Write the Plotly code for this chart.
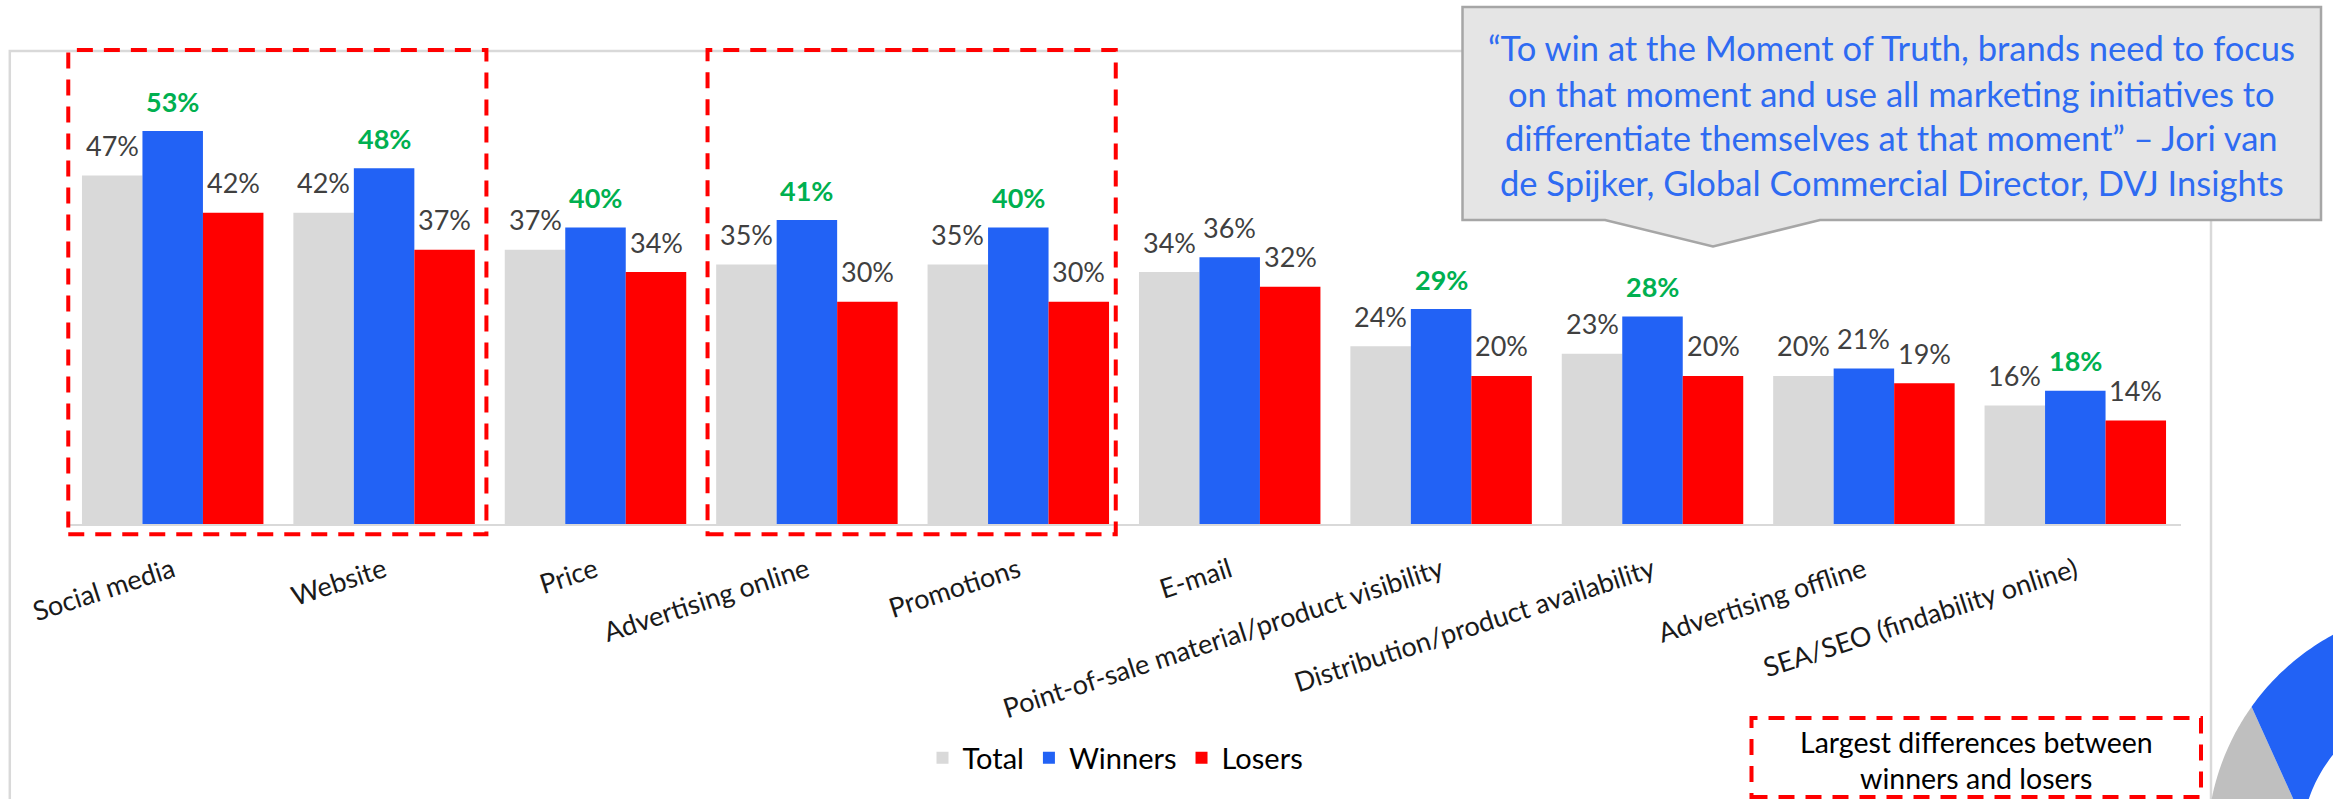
import numpy as np
import plotly.graph_objects as go

# ---- data -------------------------------------------------------------
categories = [
    "Social media", "Website", "Price", "Advertising online", "Promotions",
    "E-mail", "Point-of-sale material/product visibility",
    "Distribution/product availability", "Advertising offline",
    "SEA/SEO (findability online)",
]
total = [47, 42, 37, 35, 35, 34, 24, 23, 20, 16]
winners = [53, 48, 40, 41, 40, 36, 29, 28, 21, 18]
losers = [42, 37, 34, 30, 30, 32, 20, 20, 19, 14]
# winners values shown in green (notable gap versus losers)
winners_highlight = [True, True, True, True, True, False, True, True, False, True]
# category index spans framed by the red dashed boxes
highlight_spans = [(-0.494, 1.484), (2.530, 4.461)]

quote_lines = [
    "\u201cTo win at the Moment of Truth, brands need to focus",
    "on that moment and use all marketing initiatives to",
    "differentiate themselves at that moment\u201d \u2013 Jori van",
    "de Spijker, Global Commercial Director, DVJ Insights",
]
box_note_lines = ["Largest differences between", "winners and losers"]

# ---- styling ----------------------------------------------------------
W, H = 2333, 799
FONT = "Lato, 'Open Sans', sans-serif"
C_TOTAL = "#D9D9D9"
C_WIN = "#2262F5"
C_LOSE = "#FF0000"
C_GREEN = "#00B050"
C_LABEL = "#404040"
C_QUOTE = "#2E6BF2"
BARGAP = 0.1415


def px(x):
    return x / W


def py(y):
    return 1 - y / H


n = len(categories)
plot_left, plot_right = 67, 2181
plot_top, plot_bottom = 51, 524.3
ymax = (plot_bottom - plot_top) / 7.42


def cat_dom(v):
    # category index -> fraction of the x-axis domain
    return (v + 0.5) / n


fig = go.Figure()
for name, vals, col in [("Total", total, C_TOTAL), ("Winners", winners, C_WIN), ("Losers", losers, C_LOSE)]:
    fig.add_trace(go.Bar(
        name=name, x=list(range(n)), y=vals, marker=dict(color=col, line=dict(width=0)),
        hoverinfo="skip",
    ))

annotations = []
bar_w = (1 - BARGAP) / 3
for k, vals in enumerate([total, winners, losers]):
    for i, v in enumerate(vals):
        hl = (k == 1 and winners_highlight[i])
        annotations.append(dict(
            x=i + (k - 1) * bar_w, y=v, xref="x", yref="y",
            text=f"<b>{v}%</b>" if hl else f"{v}%",
            showarrow=False, yshift=30, yanchor="middle", xanchor="center",
            font=dict(family=FONT, size=27, color=C_GREEN if hl else C_LABEL),
        ))

# quote in the callout
quote_y = [48, 93.6, 137.5, 182]
for line, yy in zip(quote_lines, quote_y):
    annotations.append(dict(
        x=px(1891.5), y=py(yy), xref="paper", yref="paper", text=line,
        showarrow=False, xanchor="center", yanchor="middle",
        font=dict(family=FONT, size=34.5, color=C_QUOTE),
    ))

# note box text
for line, yy in zip(box_note_lines, [742, 778]):
    annotations.append(dict(
        x=px(1976), y=py(yy), xref="paper", yref="paper", text=line,
        showarrow=False, xanchor="center", yanchor="middle",
        font=dict(family=FONT, size=28.5, color="#000000"),
    ))

shapes = []
# outer chart frame
shapes.append(dict(type="rect", xref="paper", yref="paper",
                   x0=px(9.8), x1=px(2211), y0=py(51), y1=py(812),
                   line=dict(color="#D9D9D9", width=2.5), layer="below"))

# callout bubble with pointer
callout = [(1462.5, 7), (2321, 7), (2321, 220), (1820, 220), (1713, 246.5),
           (1605, 220), (1462.5, 220)]
path = "M " + " L ".join(f"{px(a):.5f},{py(b):.5f}" for a, b in callout) + " Z"
shapes.append(dict(type="path", xref="paper", yref="paper", path=path,
                   fillcolor="#E5E5E5", line=dict(color="#A6A6A6", width=2.5), layer="above"))

# red dashed frames around the categories with the biggest gaps
for a, b in highlight_spans:
    shapes.append(dict(type="rect", xref="x domain", yref="paper",
                       x0=cat_dom(a), x1=cat_dom(b), y0=py(534.3), y1=py(50),
                       line=dict(color="#FF0000", width=4, dash="16px,11px"),
                       layer="above"))

# note box
shapes.append(dict(type="rect", xref="paper", yref="paper",
                   x0=px(1751.5), x1=px(2201), y0=py(797), y1=py(718),
                   line=dict(color="#FF0000", width=4, dash="16px,11px"), layer="above"))

# piece of a neighbouring donut chart at the lower right edge
cx, cy, r_out, r_in = 2447, 846, 240, 146


def arc(r, a0, a1, num=40):
    t = np.linspace(a0, a1, num)
    return [(cx + r * np.cos(a), cy + r * np.sin(a)) for a in t]


def ang(x, y):
    return np.arctan2(y - cy, x - cx)


a_bot = ang(2210.5, 805)
a_mid = ang(2251.7, 706.7)
a_end = ang(2345, 620)
gray_pts = arc(r_out, a_bot, a_mid) + [(2296, 805)]
blue_pts = (arc(r_out, a_mid, a_end) + arc(r_in, a_end + 0.05, ang(2305, 805)) + [(2296, 805)])
for pts, col in [(gray_pts, "#BFBFBF"), (blue_pts, C_WIN)]:
    p = "M " + " L ".join(f"{px(a):.5f},{py(b):.5f}" for a, b in pts) + " Z"
    shapes.append(dict(type="path", xref="paper", yref="paper", path=p,
                       fillcolor=col, line=dict(width=0), layer="below"))

fig.update_layout(
    width=W, height=H, autosize=False,
    margin=dict(l=0, r=0, t=0, b=0, autoexpand=False),
    paper_bgcolor="white", plot_bgcolor="white",
    barmode="group", bargap=BARGAP, bargroupgap=0,
    font=dict(family=FONT, color="#1A1A1A"),
    xaxis=dict(
        domain=[px(plot_left), px(plot_right)],
        tickmode="array", tickvals=list(range(n)), ticktext=categories,
        range=[-0.5, n - 0.5], tickangle=-18, automargin=False,
        tickfont=dict(family=FONT, size=27, color="#1A1A1A"),
        showline=True, linecolor="#D9D9D9", linewidth=2,
        showgrid=False, zeroline=False, ticks="", ticklabelstandoff=18,
    ),
    yaxis=dict(
        domain=[py(plot_bottom), py(plot_top)], range=[0, ymax], automargin=False,
        showticklabels=False, showgrid=False, zeroline=False, showline=False,
    ),
    legend=dict(
        orientation="h", x=px(1115.5), xanchor="center", y=py(758), yanchor="middle",
        font=dict(family=FONT, size=29, color="#000000"), bgcolor="rgba(0,0,0,0)",
        traceorder="normal",
    ),
    annotations=annotations,
    shapes=shapes,
)

fig.write_html("out.html")
